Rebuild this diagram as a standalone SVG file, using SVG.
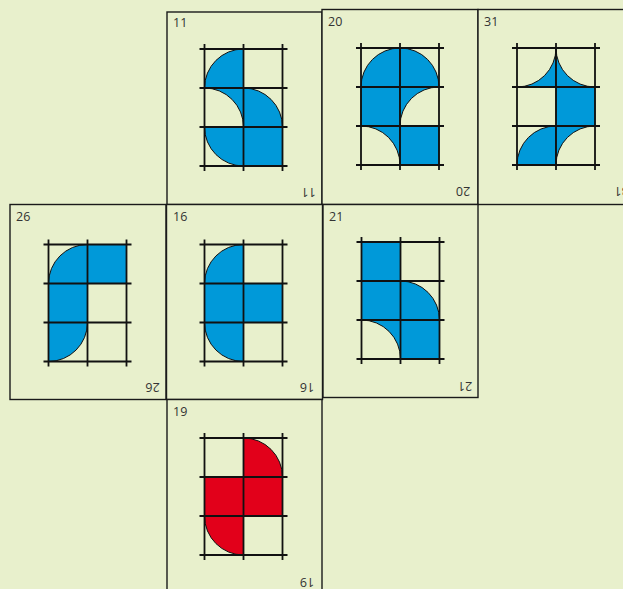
<svg xmlns="http://www.w3.org/2000/svg" xmlns:xlink="http://www.w3.org/1999/xlink" width="623" height="589" viewBox="0 0 623 589">
<style>
.card{fill:#e8f0cc;stroke:#1a1a1a;stroke-width:1.4}
.b{fill:#0099d9;stroke:#111;stroke-width:1}
.r{fill:#e2001a;stroke:#111;stroke-width:1}
.gl{stroke:#111;stroke-width:1.8;fill:none}
.lbl{font-family:"Open Sans","Liberation Sans",sans-serif;font-size:12.5px;fill:#333}
</style>
<defs>
<g id="grid">
<path class="gl" d="M-5,0H83M-5,39H83M-5,78H83M-5,117H83M0,-5V122M39,-5V122M78,-5V122"/>
</g>
</defs>
<rect x="0" y="0" width="623" height="589" fill="#e8f0cc"/>

<g id="card11">
<rect class="card" x="167" y="12" width="155" height="192.5"/>
<g transform="translate(204.5,49)">
<path class="b" d="M39,39 L0,39 A39,39 0 0 1 39,0 Z"/>
<path class="b" d="M0,39 L39,39 L39,78 A39,39 0 0 0 0,39 Z"/>
<path class="b" d="M39,78 L39,39 A39,39 0 0 1 78,78 Z"/>
<path class="b" d="M39,78 L39,117 A39,39 0 0 1 0,78 Z"/>
<rect class="b" x="39" y="78" width="39" height="39"/>
<use xlink:href="#grid"/>
</g>
<text class="lbl" x="173" y="27">11</text>
<text class="lbl" text-anchor="middle" transform="translate(308.5,192.5) rotate(180)" y="4.5">11</text>
</g>

<g id="card20">
<rect class="card" x="322" y="9.5" width="156" height="195"/>
<g transform="translate(361,48)">
<path class="b" d="M39,39 L0,39 A39,39 0 0 1 39,0 Z"/>
<path class="b" d="M39,39 L39,0 A39,39 0 0 1 78,39 Z"/>
<rect class="b" x="0" y="39" width="39" height="39"/>
<path class="b" d="M39,39 L78,39 A39,39 0 0 0 39,78 Z"/>
<path class="b" d="M0,78 L39,78 L39,117 A39,39 0 0 0 0,78 Z"/>
<rect class="b" x="39" y="78" width="39" height="39"/>
<use xlink:href="#grid"/>
</g>
<text class="lbl" x="328" y="26">20</text>
<text class="lbl" text-anchor="middle" transform="translate(463,191.5) rotate(180)" y="4.5">20</text>
</g>

<g id="card31">
<rect class="card" x="478" y="9.5" width="160" height="195"/>
<g transform="translate(517,48)">
<path class="b" d="M39,0 L39,39 L0,39 A39,39 0 0 0 39,0 Z"/>
<path class="b" d="M39,0 L39,39 L78,39 A39,39 0 0 1 39,0 Z"/>
<rect class="b" x="39" y="39" width="39" height="39"/>
<path class="b" d="M39,117 L0,117 A39,39 0 0 1 39,78 Z"/>
<path class="b" d="M39,78 L78,78 A39,39 0 0 0 39,117 Z"/>
<use xlink:href="#grid"/>
</g>
<text class="lbl" x="484" y="26">31</text>
<text class="lbl" text-anchor="middle" transform="translate(621.5,191.5) rotate(180)" y="4.5">31</text>
</g>

<g id="card26">
<rect class="card" x="10" y="204.5" width="156" height="195"/>
<g transform="translate(48.5,244.5)">
<path class="b" d="M39,39 L0,39 A39,39 0 0 1 39,0 Z"/>
<rect class="b" x="39" y="0" width="39" height="39"/>
<rect class="b" x="0" y="39" width="39" height="39"/>
<path class="b" d="M0,78 L39,78 A39,39 0 0 1 0,117 Z"/>
<use xlink:href="#grid"/>
</g>
<text class="lbl" x="16" y="221">26</text>
<text class="lbl" text-anchor="middle" transform="translate(152.5,387) rotate(180)" y="4.5">26</text>
</g>

<g id="card16">
<rect class="card" x="166.5" y="204.5" width="156" height="195"/>
<g transform="translate(204.5,244.5)">
<path class="b" d="M39,39 L0,39 A39,39 0 0 1 39,0 Z"/>
<rect class="b" x="0" y="39" width="39" height="39"/>
<rect class="b" x="39" y="39" width="39" height="39"/>
<path class="b" d="M39,78 L39,117 A39,39 0 0 1 0,78 Z"/>
<use xlink:href="#grid"/>
</g>
<text class="lbl" x="173" y="221">16</text>
<text class="lbl" text-anchor="middle" transform="translate(307,387) rotate(180)" y="4.5">16</text>
</g>

<g id="card21">
<rect class="card" x="323" y="204.5" width="155" height="193"/>
<g transform="translate(361.5,242)">
<rect class="b" x="0" y="0" width="39" height="39"/>
<rect class="b" x="0" y="39" width="39" height="39"/>
<path class="b" d="M39,78 L39,39 A39,39 0 0 1 78,78 Z"/>
<path class="b" d="M0,78 L39,78 L39,117 A39,39 0 0 0 0,78 Z"/>
<rect class="b" x="39" y="78" width="39" height="39"/>
<use xlink:href="#grid"/>
</g>
<text class="lbl" x="329" y="221">21</text>
<text class="lbl" text-anchor="middle" transform="translate(465,386) rotate(180)" y="4.5">21</text>
</g>

<g id="card19">
<rect class="card" x="167" y="399.5" width="155" height="200"/>
<g transform="translate(204.5,438)">
<path class="r" d="M39,39 L39,0 A39,39 0 0 1 78,39 Z"/>
<rect class="r" x="0" y="39" width="39" height="39"/>
<rect class="r" x="39" y="39" width="39" height="39"/>
<path class="r" d="M39,78 L39,117 A39,39 0 0 1 0,78 Z"/>
<use xlink:href="#grid"/>
</g>
<text class="lbl" x="173" y="416">19</text>
<text class="lbl" text-anchor="middle" transform="translate(307,582) rotate(180)" y="4.5">19</text>
</g>
</svg>
